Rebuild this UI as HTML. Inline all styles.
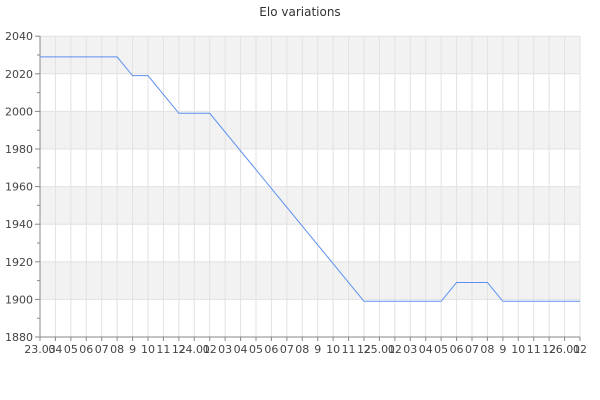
<!DOCTYPE html>
<html><head><style>body{margin:0;background:#fff}svg{display:block}</style></head><body>
<svg width="600" height="400" xmlns="http://www.w3.org/2000/svg" font-family="'DejaVu Sans','Liberation Sans',sans-serif">
<text x="300" y="16" text-anchor="middle" font-size="12" fill="#333">Elo variations</text>
<g fill="#f2f2f2">
<rect x="40" y="36" width="540" height="37.6"/>
<rect x="40" y="111.2" width="540" height="37.6"/>
<rect x="40" y="186.4" width="540" height="37.6"/>
<rect x="40" y="261.6" width="540" height="37.6"/>
</g>
<g id="g" stroke="#e2e2e2" stroke-width="1"></g>
<g id="ax" stroke="#888" stroke-width="1"></g>
<g id="yl" font-size="11" fill="#444" text-anchor="end"></g>
<g id="xl" font-size="11" fill="#444" text-anchor="middle"></g>
<polyline id="ln" fill="none" stroke="#5b8ff0" stroke-width="1"/>
<script>
var ns="http://www.w3.org/2000/svg";
function el(p,t,a,txt){var e=document.createElementNS(ns,t);for(var k in a)e.setAttribute(k,a[k]);if(txt)e.textContent=txt;document.getElementById(p).appendChild(e);}
var step=540/35;
for(var i=0;i<=35;i++){var x=40+i*step;el('g','line',{x1:x,y1:36,x2:x,y2:337});}
function Y(v){return 337-(v-1880)*1.88;}
for(var v=1880;v<=2040;v+=20){var y=Y(v);el('g','line',{x1:40,y1:y,x2:580,y2:y});el('ax','line',{x1:35,y1:y,x2:40,y2:y});el('yl','text',{x:33,y:y+4},String(v));}
for(var v=1890;v<2040;v+=20){var y=Y(v);el('ax','line',{x1:37,y1:y,x2:40,y2:y});}
el('ax','line',{x1:40,y1:36,x2:40,y2:337});
el('ax','line',{x1:40,y1:337,x2:580,y2:337});
var labs=[];for(var i=0;i<36;i++){var m=(2+i)%12+1;var yr=23+Math.floor((2+i)/12);var s=(m==1||i==0)?yr+"."+(m<10?"0"+m:m):(m==9?"9":(m<10?"0"+m:String(m)));labs.push(s);}
for(var i=0;i<36;i++){var x=40+i*step;el('ax','line',{x1:x,y1:337,x2:x,y2:341});el('xl','text',{x:x,y:353},labs[i]);}
var pts=[[0,2029],[5,2029],[6,2019],[7,2019],[9,1999],[11,1999],[21,1899],[26,1899],[27,1909],[29,1909],[30,1899],[35,1899]];
document.getElementById('ln').setAttribute('points',pts.map(function(p){return (40+p[0]*step)+","+Y(p[1]);}).join(" "));
</script>
</svg>
</body></html>
